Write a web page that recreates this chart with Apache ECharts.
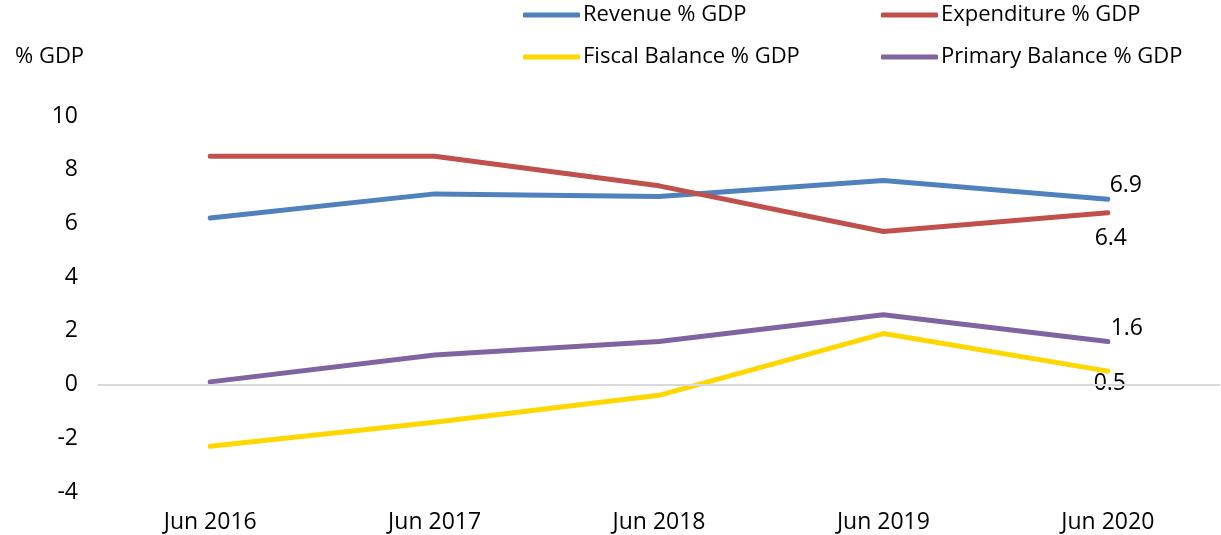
<!DOCTYPE html>
<html>
<head>
<meta charset="utf-8">
<script src="https://cdn.jsdelivr.net/npm/echarts@6/dist/echarts.min.js"></script>
<style>
  html, body { margin: 0; padding: 0; background: #fff; }
  #chart { width: 1221px; height: 535px; }
</style>
</head>
<body>
<div id="chart"></div>
<script>
// Fiscal indicators as a share of GDP, June of each year
const categories = ['Jun 2016', 'Jun 2017', 'Jun 2018', 'Jun 2019', 'Jun 2020'];
const revenue = [6.2, 7.1, 7.0, 7.6, 6.9];
const expenditure = [8.5, 8.5, 7.4, 5.7, 6.4];
const fiscalBalance = [-2.3, -1.4, -0.4, 1.9, 0.5];
const primaryBalance = [0.1, 1.1, 1.6, 2.6, 1.6];
const yTicks = { min: -4, max: 10, interval: 2 };

const FONT = '"Open Sans", "Noto Sans", sans-serif';
const TXT = '#000';

// label only the last point of each line
function endLabel(data, position, offset) {
  return data.map((v, i) => i === data.length - 1
    ? { value: v, label: { show: true, position: position, offset: offset, distance: 4,
        formatter: (p) => p.value.toFixed(1), fontSize: 23, color: TXT, fontFamily: FONT } }
    : v);
}

function line(name, data, color, position, offset) {
  return {
    name: name, type: 'line', data: endLabel(data, position, offset),
    symbol: 'circle', symbolSize: 0.01, showSymbol: true,
    label: { show: false },
    lineStyle: { width: 5, color: color, cap: 'round', join: 'round' },
    itemStyle: { color: color },
    emphasis: { disabled: true },
    z: 3
  };
}

function legendItem(name, left, top) {
  return {
    data: [name], left: left, top: top, icon: 'roundRect',
    itemWidth: 57, itemHeight: 5, itemGap: 0, padding: 0,
    textStyle: { fontSize: 22, color: TXT, fontFamily: FONT, padding: [0, 0, 0, -2] },
    selectedMode: false
  };
}

const chart = echarts.init(document.getElementById('chart'), null, { renderer: 'canvas' });
chart.setOption({
  animation: false,
  backgroundColor: '#fff',
  title: {
    text: '% GDP', left: 10, top: 41,
    textStyle: { fontSize: 22, fontWeight: 'normal', color: TXT, fontFamily: FONT }
  },
  legend: [
    legendItem('Revenue % GDP', 523, 4),
    legendItem('Expenditure % GDP', 881, 4),
    legendItem('Fiscal Balance % GDP', 523, 46),
    legendItem('Primary Balance % GDP', 881, 46)
  ],
  grid: { left: 98, right: 1, top: 116, bottom: 43, containLabel: false },
  xAxis: {
    type: 'category', data: categories, boundaryGap: true,
    axisLine: { show: false }, axisTick: { show: false },
    axisLabel: { fontSize: 23, color: TXT, fontFamily: FONT, margin: 19 }
  },
  yAxis: {
    type: 'value', min: yTicks.min, max: yTicks.max, interval: yTicks.interval,
    axisLine: { show: false }, axisTick: { show: false },
    splitLine: { show: false },
    axisLabel: { fontSize: 23, color: TXT, fontFamily: FONT, margin: 20, padding: [4, 0, 0, 0] }
  },
  series: [
    line('Revenue % GDP', revenue, '#4F81BD', 'top', [18, 2]),
    line('Expenditure % GDP', expenditure, '#C0504D', 'bottom', [3, 10]),
    line('Fiscal Balance % GDP', fiscalBalance, '#FFD700', 'bottom', [2, -3]),
    line('Primary Balance % GDP', primaryBalance, '#8064A2', 'top', [19, 2]),
    {
      // zero baseline
      type: 'line', data: [], silent: true,
      markLine: {
        silent: true, symbol: 'none', label: { show: false },
        lineStyle: { color: '#D9D9D9', width: 2, type: 'solid' },
        data: [{ yAxis: 0 }]
      },
      z: 1
    }
  ]
});
</script>
</body>
</html>
